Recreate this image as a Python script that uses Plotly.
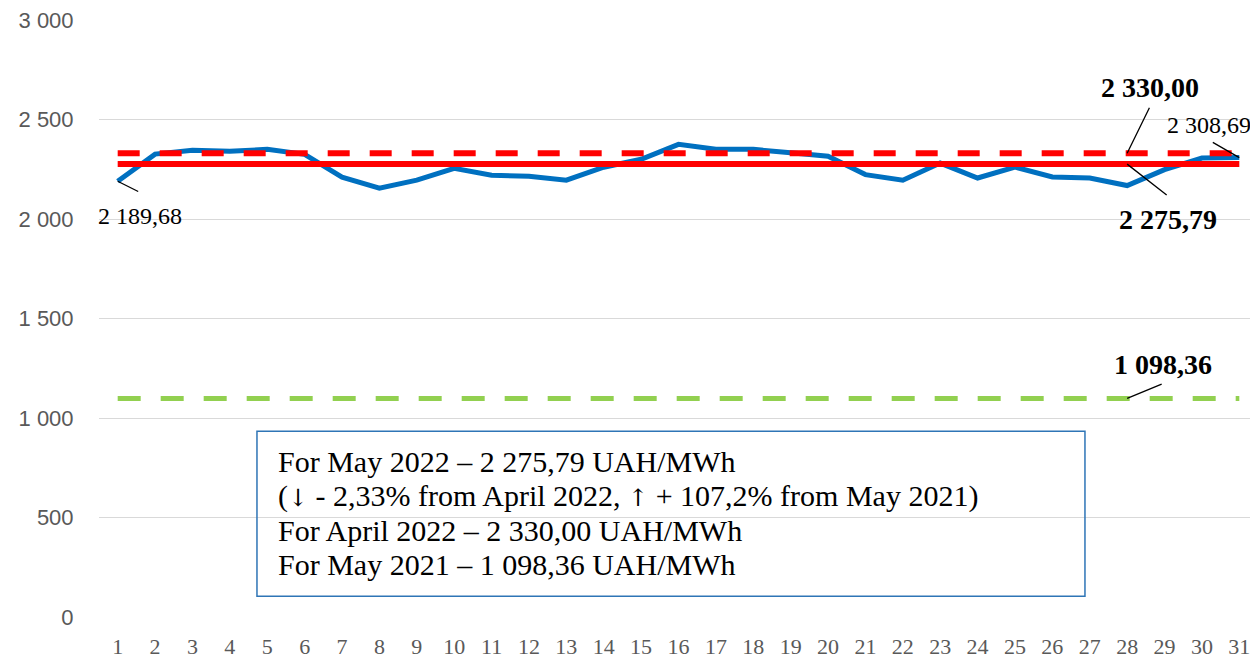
import plotly.graph_objects as go

days = list(range(1, 32))
daily_price = [2189.68, 2326, 2345, 2340, 2350, 2325, 2210, 2155, 2195, 2255,
               2220, 2215, 2195, 2260, 2300, 2375, 2350, 2350, 2333, 2315,
               2223, 2195, 2281, 2206, 2261, 2211, 2206, 2168, 2248, 2306, 2308.69]
avg_may_2022 = 2275.79
avg_april_2022 = 2330.00
avg_may_2021 = 1098.36
y_ticks = [0, 500, 1000, 1500, 2000, 2500, 3000]
y_tick_text = ["0", "500", "1 000", "1 500", "2 000", "2 500", "3 000"]
ARW = '<span style="font-family:DejaVu Serif;font-size:24px;color:black">{}</span>'
box_lines = [
    "For May 2022 – 2 275,79 UAH/MWh",
    "(" + ARW.format("↓") + " - 2,33% from April 2022, " + ARW.format("↑") + " + 107,2% from May 2021)",
    "For April 2022 – 2 330,00 UAH/MWh",
    "For May 2021 – 1 098,36 UAH/MWh",
]

SERIF = "Liberation Serif, Times New Roman, serif"
SANS = "Liberation Sans, Arial, sans-serif"

fig = go.Figure()
fig.add_trace(go.Scatter(x=[days[0], days[-1]], y=[avg_may_2021] * 2, mode="lines",
                         line=dict(color="#92D050", width=5, dash="23px,20px"), hoverinfo="skip"))
fig.add_trace(go.Scatter(x=days, y=daily_price, mode="lines",
                         line=dict(color="#0070C0", width=5), hoverinfo="skip"))
fig.add_trace(go.Scatter(x=[days[0], days[-1]], y=[avg_may_2022] * 2, mode="lines",
                         line=dict(color="#FF0000", width=6), hoverinfo="skip"))
fig.add_trace(go.Scatter(x=[days[0], days[-1]], y=[avg_april_2022] * 2, mode="lines",
                         line=dict(color="#FF0000", width=6, dash="22px,20px"), hoverinfo="skip"))

ann = []
def leader(x, y, ax, ay):
    ann.append(dict(x=x, y=y, xref="x", yref="y", ax=ax, ay=ay, text="",
                    showarrow=True, arrowhead=0, arrowwidth=1.3, arrowcolor="black"))
def label(x, y, dx, dy, text, size, bold=False):
    t = f"<b>{text}</b>" if bold else text
    ann.append(dict(x=x, y=y, xref="x", yref="y", xshift=dx, yshift=-dy, text=t,
                    showarrow=False, font=dict(family=SERIF, size=size, color="black"),
                    xanchor="center", yanchor="middle"))

leader(days[0], daily_price[0], 22, 11)
label(days[0], daily_price[0], 22, 35, "2 189,68", 24)
leader(days[-1], daily_price[-1], -28, -16)
label(days[-1], daily_price[-1], -30, -33, "2 308,69", 24)
leader(28, avg_april_2022, 23, -47)
label(28, avg_april_2022, 23, -66, "2 330,00", 28, bold=True)
leader(28, avg_may_2022, 41, 32)
label(28, avg_may_2022, 41, 55, "2 275,79", 28, bold=True)
leader(28, avg_may_2021, 36, -15)
label(28, avg_may_2021, 36, -34, "1 098,36", 28, bold=True)

line_y = [0.2612, 0.2030, 0.1448, 0.0882]
for t, yy in zip(box_lines, line_y):
    ann.append(dict(x=0.1527, y=yy, xref="paper", yref="paper", text=t, showarrow=False,
                    xanchor="left", yanchor="middle",
                    font=dict(family=SERIF, size=30, color="black")))

fig.update_layout(
    width=1250, height=654,
    margin=dict(l=91, r=0, t=8, b=45),
    paper_bgcolor="white", plot_bgcolor="white",
    showlegend=False,
    annotations=ann,
    shapes=[dict(type="rect", xref="paper", yref="paper", x0=0.1363, x1=0.8507,
                 y0=0.0349, y1=0.3111, line=dict(color="#2E75B6", width=1.5),
                 fillcolor="rgba(0,0,0,0)")],
    xaxis=dict(range=[0.5, 31.5], tickmode="array", tickvals=days,
               ticktext=[str(d) for d in days], showgrid=False, zeroline=False,
               showline=False, ticks="outside", ticklen=10, tickcolor="rgba(0,0,0,0)",
               tickfont=dict(family=SERIF, size=22, color="#595959")),
    yaxis=dict(range=[0, 3000], tickmode="array", tickvals=y_ticks, ticktext=y_tick_text,
               showgrid=True, gridcolor="#D9D9D9", gridwidth=1, zeroline=False,
               showline=False, ticks="outside", ticklen=20, tickcolor="rgba(0,0,0,0)",
               ticklabeloverflow="allow",
               tickfont=dict(family=SANS, size=22, color="#595959")),
)

fig.write_html("out.html")
